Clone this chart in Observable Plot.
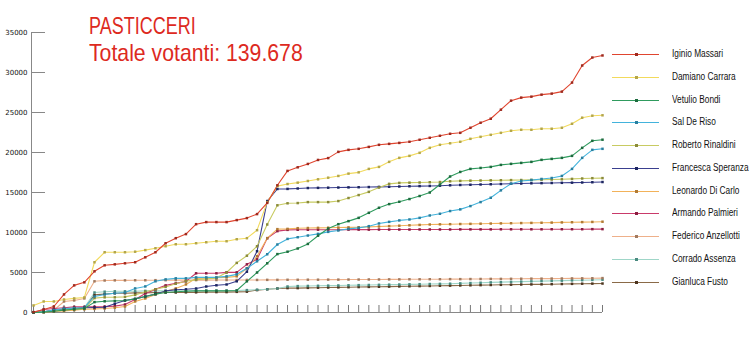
<!DOCTYPE html>
<html><head><meta charset="utf-8">
<script src="https://cdn.jsdelivr.net/npm/d3@7"></script>
<script src="https://cdn.jsdelivr.net/npm/@observablehq/plot@0.6"></script>
<style>
body{margin:0;background:#fff;}
#wrap{position:relative;width:750px;height:343px;overflow:hidden;background:#fff;}
#wrap svg{position:absolute;left:0;top:0;}
.t{position:absolute;left:89px;color:#dd2a1e;font-family:"Liberation Sans",Arial,sans-serif;font-size:24px;line-height:24px;white-space:nowrap;transform-origin:0 0;}
.lg{position:absolute;left:612px;width:140px;height:10px;}
.lg .ln{position:absolute;left:0;top:5px;width:47px;height:1px;}
.lg .mk{position:absolute;left:23px;top:4px;width:3px;height:3px;}
.lg .lb{position:absolute;left:60px;top:0;font-family:"Liberation Sans",Arial,sans-serif;font-size:10px;line-height:10px;color:#111;white-space:nowrap;transform:scaleX(0.83);transform-origin:0 0;}
</style></head><body><div id="wrap"></div>
<script>
const names = ["Iginio Massari","Damiano Carrara","Vetulio Bondi","Sal De Riso","Roberto Rinaldini","Francesca Speranza","Leonardo Di Carlo","Armando Palmieri","Federico Anzellotti","Corrado Assenza","Gianluca Fusto"];
const lineColors = ["#e0452f","#f2da5c","#2f9b5e","#43b3dc","#c8cb62","#3a3f8f","#f2b25a","#c93a6a","#eeb08a","#9fd6c8","#8a6a48"];
const markerColors = ["#9e2a1e","#b3a64a","#1d6b3e","#2a7f9e","#8a8a3a","#1c2560","#b07a35","#8a1d40","#a07a60","#4a8a80","#4d3520"];
const yTicks = [0,5000,10000,15000,20000,25000,30000,35000];

const massari = [50,370,750,2260,3390,3770,5150,5900,6020,6150,6280,6900,7530,8660,9290,9800,11040,11300,11300,11300,11550,11800,12300,13700,15900,17700,18150,18570,19070,19300,20080,20330,20460,20700,20960,21080,21200,21340,21590,21840,22090,22340,22460,23090,23720,24220,25350,26480,26860,26980,27230,27360,27610,28740,30870,31870,32130];
const carrara = [880,1380,1380,1630,1760,1880,6280,7530,7530,7530,7600,7800,8030,8280,8530,8530,8660,8780,8910,8910,9160,9290,10290,13800,15800,16060,16230,16440,16650,16850,17070,17360,17520,17950,18200,18830,19330,19580,19960,20580,20960,21150,21340,21710,21960,22210,22460,22720,22840,22840,22970,22970,23090,23590,24350,24600,24650];
const bondi = [0,50,150,300,400,500,1300,1400,1450,1500,1700,2000,2300,2500,2600,2650,2700,2700,2700,2700,2750,3900,5000,6150,7300,7600,8000,8570,9600,10500,11040,11420,11830,12460,13090,13550,13840,14180,14560,15000,16000,17000,17570,17950,18070,18200,18450,18580,18700,18830,19080,19200,19330,19580,20580,21460,21600];
const deRiso = [0,100,300,500,550,600,2000,2260,2400,2500,3010,3260,3900,4140,4270,4270,4390,4390,4390,4520,4770,5520,6400,7280,8500,9200,9410,9620,9830,10080,10250,10450,10580,10790,11130,11330,11510,11630,11830,12130,12340,12680,12890,13300,13800,14340,15270,16100,16440,16550,16690,16810,17070,17950,19330,20330,20460];
const rinaldini = [0,100,200,350,450,500,1800,1900,1900,1950,2200,2600,2900,3200,3600,3900,4100,4200,4300,5000,6200,7100,8280,11000,13400,13650,13680,13800,13800,13800,13930,14310,14680,15080,15620,16080,16200,16230,16250,16280,16310,16400,16450,16480,16500,16520,16530,16550,16560,16580,16600,16620,16650,16700,16750,16790,16800];
const speranza = [0,100,300,400,500,600,620,650,1100,1500,1700,2000,2300,2700,2850,2900,3000,3250,3400,3500,3900,5100,7660,13930,15440,15450,15500,15560,15580,15600,15620,15640,15660,15680,15700,15720,15750,15780,15800,15820,15850,15900,15940,15970,16000,16030,16060,16090,16120,16150,16170,16190,16210,16230,16250,16280,16310];
const diCarlo = [0,50,130,200,300,400,450,500,600,750,1380,1760,2260,2640,3010,3510,4270,4300,4350,4390,4520,5520,7030,9290,10420,10450,10540,10560,10580,10600,10620,10640,10660,10700,10750,10800,10850,10900,10950,11000,11020,11040,11060,11080,11100,11120,11140,11160,11180,11200,11220,11240,11260,11280,11300,11320,11350];
const palmieri = [0,370,500,600,700,700,720,740,800,1000,1630,2380,2890,3390,3640,3890,4900,4900,4900,5020,5020,6020,6650,9290,10170,10330,10340,10340,10350,10350,10350,10360,10360,10360,10370,10370,10370,10370,10380,10380,10380,10380,10390,10390,10390,10390,10400,10400,10400,10400,10400,10410,10410,10410,10410,10420,10420];
const anzellotti = [0,50,300,1380,1510,1760,3900,4000,4020,4020,4030,4030,4040,4040,4050,4050,4050,4050,4060,4060,4060,4070,4070,4080,4080,4090,4090,4100,4100,4110,4110,4120,4120,4130,4130,4140,4140,4150,4150,4160,4160,4170,4170,4180,4190,4200,4200,4210,4220,4230,4230,4240,4250,4260,4270,4280,4300];
const assenza = [0,100,250,400,500,600,2500,2600,2650,2650,2650,2700,2700,2700,2720,2720,2750,2750,2750,2750,2750,2800,2850,2900,3000,3250,3300,3320,3340,3360,3380,3400,3420,3440,3460,3480,3500,3520,3540,3560,3580,3600,3640,3680,3720,3760,3800,3830,3860,3890,3920,3950,3980,4010,4040,4070,4100];
const fusto = [0,50,200,350,450,550,2200,2300,2400,2400,2450,2450,2500,2500,2500,2520,2520,2550,2550,2550,2580,2600,2800,2900,3000,3050,3050,3080,3100,3120,3140,3160,3180,3200,3220,3240,3260,3280,3300,3320,3340,3360,3380,3400,3420,3440,3460,3480,3500,3510,3520,3540,3560,3580,3600,3610,3620];

const series = [massari,carrara,bondi,deRiso,rinaldini,speranza,diCarlo,palmieri,anzellotti,assenza,fusto];
const idx = d3.range(massari.length);
const xMin = -0.2;
const rows = [];
series.slice().reverse().forEach((vals, r) => {
  const s = series.length - 1 - r;
  vals.forEach((v, i) => rows.push({s, name: names[s], i, v, lc: lineColors[s], mc: markerColors[s]}));
});

const plot = Plot.plot({
  width: 750, height: 343,
  marginLeft: 31, marginRight: 148, marginTop: 32, marginBottom: 31,
  style: {fontFamily: "'DejaVu Sans', sans-serif", fontSize: "7px", color: "#111", background: "transparent", overflow: "visible"},
  x: {domain: [xMin, idx[idx.length - 1]]},
  y: {domain: [yTicks[0], yTicks[yTicks.length - 1]]},
  color: {type: "identity"},
  marks: [
    Plot.ruleY([0], {stroke: "#888", strokeWidth: 1}),
    Plot.ruleX([xMin], {y1: yTicks[0], y2: yTicks[yTicks.length - 1], stroke: "#888"}),
    Plot.axisX({ticks: idx, tickSize: -7, tickFormat: () => "", stroke: "#777", label: null}),
    Plot.axisY({ticks: yTicks, tickSize: -14, tickPadding: 18, tickFormat: d => String(d), stroke: "#888", label: null}),
    Plot.line(rows, {x: "i", y: "v", z: "name", stroke: "lc", strokeWidth: 1.1}),
    Plot.dot(rows, {x: "i", y: "v", symbol: "square", r: 1.4, fill: "mc", stroke: null})
  ]
});

const wrap = document.getElementById("wrap");
wrap.appendChild(plot);

const t1 = document.createElement("div");
t1.className = "t"; t1.textContent = "PASTICCERI";
t1.style.top = "14px"; t1.style.transform = "scaleX(0.75)";
wrap.appendChild(t1);
const t2 = document.createElement("div");
t2.className = "t"; t2.textContent = "Totale votanti: 139.678";
t2.style.top = "40.7px"; t2.style.transform = "scaleX(0.885)";
wrap.appendChild(t2);

names.forEach((n, k) => {
  const y = 54 + k * 22.77;
  const d = document.createElement("div");
  d.className = "lg";
  d.style.top = (y - 5) + "px";
  d.innerHTML = `<div class="ln" style="background:${lineColors[k]}"></div><div class="mk" style="background:${markerColors[k]}"></div><div class="lb">${n}</div>`;
  wrap.appendChild(d);
});
</script>
</body></html>
